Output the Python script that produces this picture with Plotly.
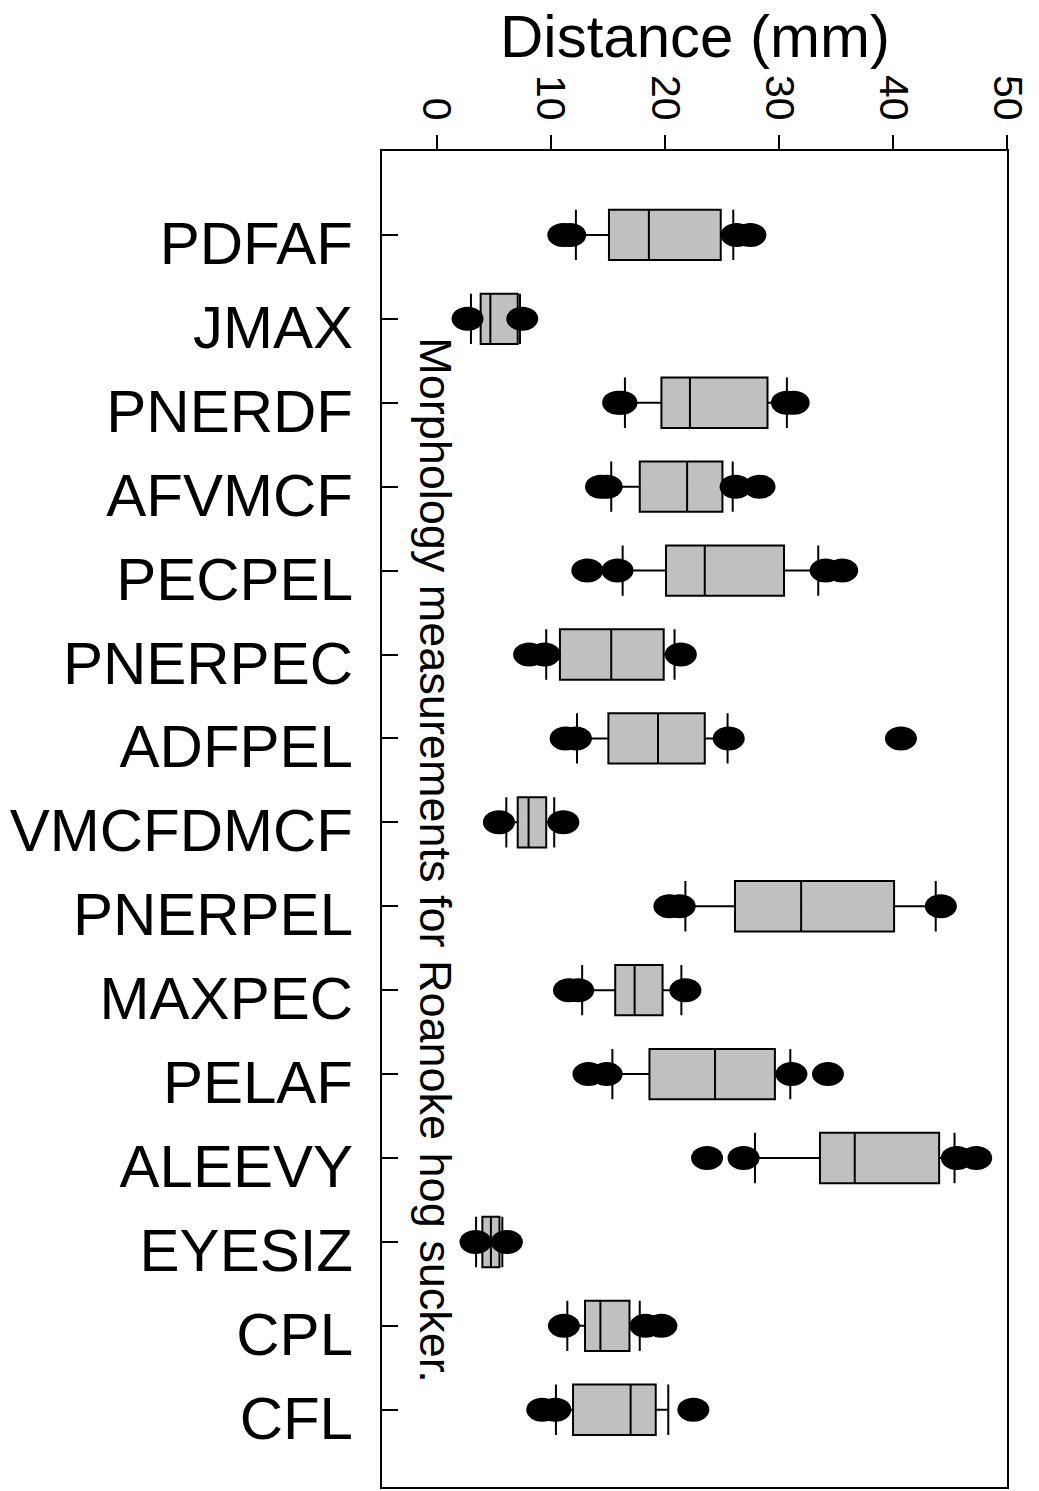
import plotly.graph_objects as go

# Morphology measurements, top to bottom as in the figure
categories = ["PDFAF", "JMAX", "PNERDF", "AFVMCF", "PECPEL", "PNERPEC", "ADFPEL",
              "VMCFDMCF", "PNERPEL", "MAXPEC", "PELAF", "ALEEVY", "EYESIZ", "CPL", "CFL"]

# box statistics (mm): 10th pct, Q1, median, Q3, 90th pct
p10 = [12.2, 3.0, 16.5, 15.3, 16.3, 9.6, 12.3, 6.1, 21.8, 12.75, 15.4, 27.9, 3.45, 11.45, 10.45]
q1 = [15.1, 3.85, 19.7, 17.8, 20.1, 10.8, 15.05, 7.1, 26.15, 15.65, 18.65, 33.6, 4.0, 13.0, 11.95]
medians = [18.6, 4.7, 22.2, 21.95, 23.5, 15.3, 19.4, 8.05, 31.95, 17.35, 24.4, 36.65, 4.75, 14.35, 17.0]
q3 = [24.9, 7.1, 29.0, 25.05, 30.45, 19.9, 23.5, 9.6, 40.1, 19.8, 29.65, 44.05, 5.5, 16.9, 19.2]
p90 = [26.0, 7.3, 30.7, 25.95, 33.45, 20.85, 25.5, 10.3, 43.75, 21.45, 31.0, 45.4, 5.75, 17.8, 20.3]

# points outside the whiskers, one list per measurement
outliers = [
    [11.1, 11.7, 26.3, 27.5],
    [2.7, 7.5],
    [15.9, 16.2, 30.7, 31.3],
    [14.4, 14.9, 26.2, 28.3],
    [13.2, 15.85, 34.1, 35.55],
    [8.1, 9.45, 21.4],
    [11.3, 12.2, 25.6, 40.7],
    [5.45, 11.1],
    [20.4, 21.3, 44.2],
    [11.6, 12.4, 21.8],
    [13.3, 14.9, 31.1, 34.3],
    [23.7, 26.9, 45.6, 47.3],
    [3.4, 6.15],
    [11.15, 18.3, 19.7],
    [9.25, 10.4, 22.5],
]

x_ticks = [0, 10, 20, 30, 40, 50]

fig = go.Figure()
fig.add_trace(go.Box(
    y=categories, q1=q1, median=medians, q3=q3,
    lowerfence=p10, upperfence=p90,
    orientation="h", boxpoints=False,
    fillcolor="#C0C0C0", line=dict(color="black", width=2),
    whiskerwidth=1, width=0.6, hoverinfo="skip", showlegend=False,
))

# outliers as black ellipses
for i, pts in enumerate(outliers):
    for v in pts:
        fig.add_shape(type="circle", xref="x", yref="y",
                      xsizemode="pixel", ysizemode="pixel",
                      xanchor=v, yanchor=i, x0=-16, x1=16, y0=-12, y1=12,
                      fillcolor="black", line=dict(width=0))

arial = "Arial, Liberation Sans, sans-serif"

fig.add_annotation(text="Morphology measurements for Roanoke hog sucker.",
                   xref="x", yref="paper", x=-0.18, y=0.4694, textangle=90,
                   showarrow=False, font=dict(family=arial, size=45, color="black"))

fig.add_annotation(text="Distance (mm)", xref="paper", yref="paper",
                   x=0.5, y=1.1125, showarrow=False,
                   font=dict(family=arial, size=60, color="black"))

# the page body adds an 8px offset, so margins are trimmed by that much
fig.update_layout(
    width=1031, height=1483,
    margin=dict(l=374, r=32, t=143, b=2),
    paper_bgcolor="white", plot_bgcolor="white",
    font=dict(family=arial, color="black"),
)
fig.update_xaxes(
    side="top", range=[-4.8, 50], tickvals=x_ticks,
    ticks="outside", ticklen=14, tickwidth=2, tickcolor="black",
    tickangle=90, tickfont=dict(size=41),
    showline=True, linewidth=2, linecolor="black", mirror=True,
    showgrid=False, zeroline=False,
)
fig.update_yaxes(
    type="category", categoryorder="array", categoryarray=categories,
    range=[14.92, -1],
    ticks="inside", ticklen=16, tickwidth=2, tickcolor="black",
    tickfont=dict(size=60), ticklabelstandoff=15, ticklabelshift=-8,
    showline=True, linewidth=2, linecolor="black", mirror=True,
    showgrid=False, zeroline=False,
)

fig.write_html("out.html")
